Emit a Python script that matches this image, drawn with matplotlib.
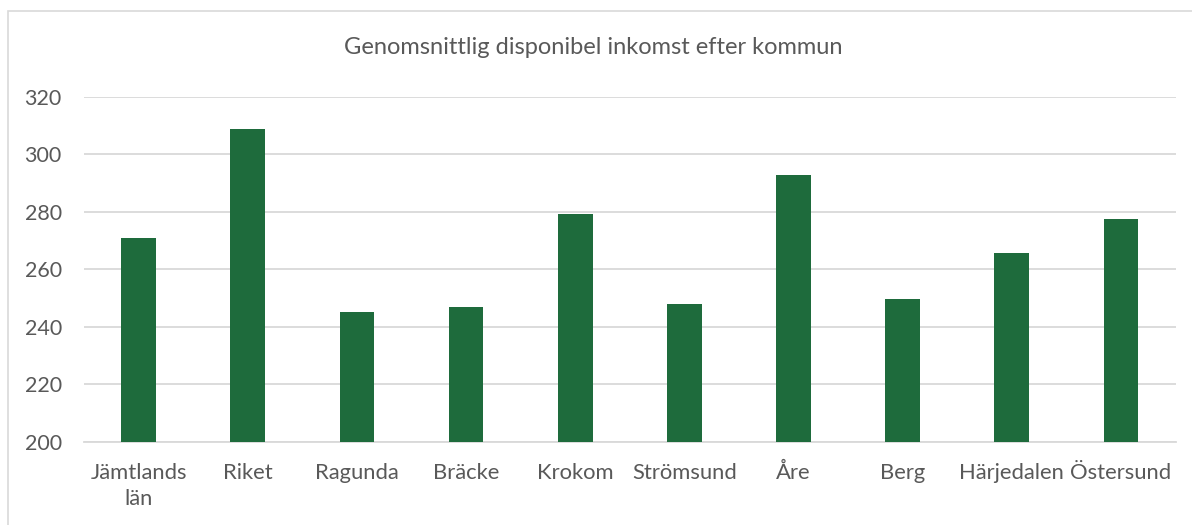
import matplotlib
matplotlib.use('Agg')
from matplotlib import pyplot as plt
from matplotlib.patches import Rectangle

# kommuner och genomsnittlig disponibel inkomst (tkr)
kommuner = ['Jämtlands\nlän', 'Riket', 'Ragunda', 'Bräcke', 'Krokom',
            'Strömsund', 'Åre', 'Berg', 'Härjedalen', 'Östersund']
inkomst = [271.0, 308.7, 245.2, 246.9, 279.1, 247.9, 292.7, 249.8, 265.8, 277.6]
y_ticks = [200, 220, 240, 260, 280, 300, 320]

plt.rcParams['font.family'] = ['Lato', 'DejaVu Sans']
text_color = '#595959'

fig = plt.figure(figsize=(11.92, 5.25), dpi=100)
ax = fig.add_axes([0.0705, 0.1581, 0.9157, 0.6577])

# ram runt diagrammet
fig.patches.append(Rectangle((8 / 1192, -0.1), 1.2, 1.1 - 11 / 525,
                             transform=fig.transFigure, fill=False,
                             edgecolor='#d9d9d9', linewidth=1.2))

x = range(len(kommuner))
ax.bar(x, inkomst, width=0.318, color='#1e6b3c', zorder=3)

ax.set_xlim(-0.5, len(kommuner) - 0.5)
ax.set_ylim(200, 320)
ax.set_yticks(y_ticks)
ax.set_xticks(list(x))
ax.set_xticklabels(kommuner, linespacing=1.4, fontsize=15.8)
ax.grid(axis='y', color='#d9d9d9', linewidth=1.3, zorder=0)
for s in ['top', 'right', 'left']:
    ax.spines[s].set_visible(False)
ax.spines['bottom'].set_color('#d9d9d9')
ax.spines['bottom'].set_linewidth(1.3)
ax.tick_params(axis='both', length=0, colors=text_color)
ax.tick_params(axis='y', labelsize=15.5, pad=16)
ax.tick_params(axis='x', pad=15)

fig.text(0.498, 1 - 48 / 525, 'Genomsnittlig disponibel inkomst efter kommun',
         ha='center', va='center', fontsize=17, color=text_color)

plt.savefig('out.png', dpi=100)
